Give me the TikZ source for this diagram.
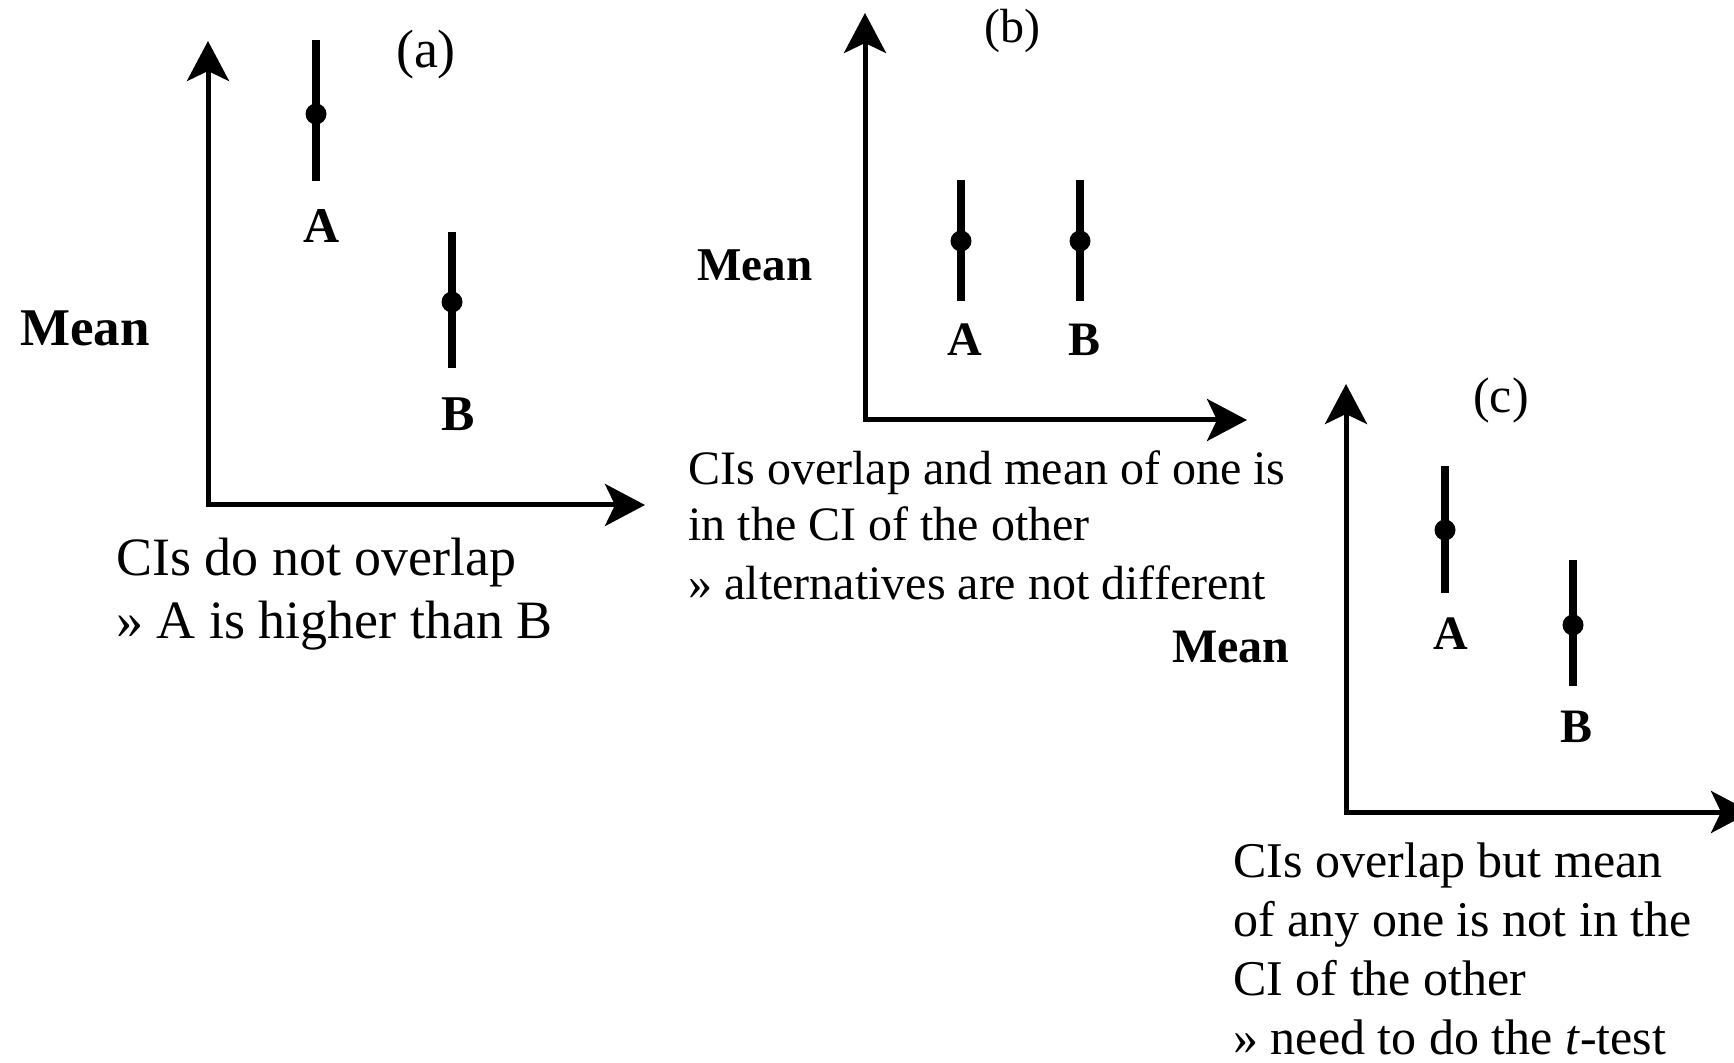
\documentclass[tikz,border=0pt]{standalone}
\usepackage{fontspec}
\setmainfont{Liberation Serif}
\usetikzlibrary{arrows.meta}
\tikzset{
  axisline/.style={line width=2.5pt, line join=miter,
    {Stealth[length=20pt,width=21pt,inset=5pt]}-{Stealth[length=20pt,width=21pt,inset=5pt]}},
  cibar/.style={line width=4.4pt, line cap=butt},
  meandot/.style={circle, fill=black, inner sep=0pt, minimum size=10.5pt},
  grp/.style={font=\fontsize{#1}{#1}\selectfont\bfseries, inner sep=0pt, anchor=center},
  meanlab/.style={font=\fontsize{#1}{#1}\selectfont\bfseries, inner sep=0pt, anchor=center},
  tag/.style={font=\fontsize{#1}{#1}\selectfont, inner sep=0pt, anchor=center},
  capline/.style={font=\fontsize{#1}{#1}\selectfont, inner sep=0pt, anchor=base west}
}
\begin{document}
\begin{tikzpicture}[x=0.5pt,y=-0.5pt]
\useasboundingbox (0,0) rectangle (1734,1063);

% ---------- panel (a)
\coordinate (aY) at (208,41);
\coordinate (aX) at (645,505);
\draw[axisline] (aY) |- (aX);
\coordinate (aAt) at (316,40);
\coordinate (aAb) at (316,181);
\draw[cibar] (aAt) -- (aAb);
\node[meandot] (aAm) at (316,114) {};
\coordinate (aBt) at (452,232);
\coordinate (aBb) at (452,368);
\draw[cibar] (aBt) -- (aBb);
\node[meandot] (aBm) at (452,302) {};
\node[grp=25] (aA) at (322,226) {A};
\node[grp=25] (aB) at (458,414) {B};
\node[meanlab=26.5] (aMean) at (85,328) {Mean};
\node[tag=27] (aTag) at (426,55) {(a)};
\node[capline=27] (aC1) at (116,575) {CIs do not overlap};
\node[capline=27] (aC2) at (116,639) {» A is higher than B};

% ---------- panel (b)
\coordinate (bY) at (865,13);
\coordinate (bX) at (1247,420);
\draw[axisline] (bY) |- (bX);
\coordinate (bAt) at (961,180);
\coordinate (bAb) at (961,301);
\draw[cibar] (bAt) -- (bAb);
\node[meandot] (bAm) at (961,241) {};
\coordinate (bBt) at (1080,180);
\coordinate (bBb) at (1080,301);
\draw[cibar] (bBt) -- (bBb);
\node[meandot] (bBm) at (1080,241) {};
\node[grp=24] (bA) at (965,340) {A};
\node[grp=24] (bB) at (1084,340) {B};
\node[meanlab=23.5] (bMean) at (755,265) {Mean};
\node[tag=24] (bTag) at (1012,31) {(b)};
\node[capline=24] (bC1) at (688,485) {CIs overlap and mean of one is};
\node[capline=24] (bC2) at (688,541) {in the CI of the other};
\node[capline=24] (bC3) at (688,599) {» alternatives are not different};

% ---------- panel (c)
\coordinate (cY) at (1346,384);
\coordinate (cX) at (1751,812);
\draw[axisline] (cY) |- (cX);
\coordinate (cAt) at (1445,466);
\coordinate (cAb) at (1445,593);
\draw[cibar] (cAt) -- (cAb);
\node[meandot] (cAm) at (1445,530) {};
\coordinate (cBt) at (1573,560);
\coordinate (cBb) at (1573,686);
\draw[cibar] (cBt) -- (cBb);
\node[meandot] (cBm) at (1573,625) {};
\node[grp=24] (cA) at (1451,634) {A};
\node[grp=24] (cB) at (1576,727) {B};
\node[meanlab=24] (cMean) at (1231,647) {Mean};
\node[tag=25] (cTag) at (1501,400) {(c)};
\node[capline=25] (cC1) at (1233,877) {CIs overlap but mean};
\node[capline=25] (cC2) at (1233,936) {of any one is not in the};
\node[capline=25] (cC3) at (1233,995) {CI of the other};
\node[capline=25] (cC4) at (1233,1054) {» need to do the \textit{t}-test};
\end{tikzpicture}
\end{document}
